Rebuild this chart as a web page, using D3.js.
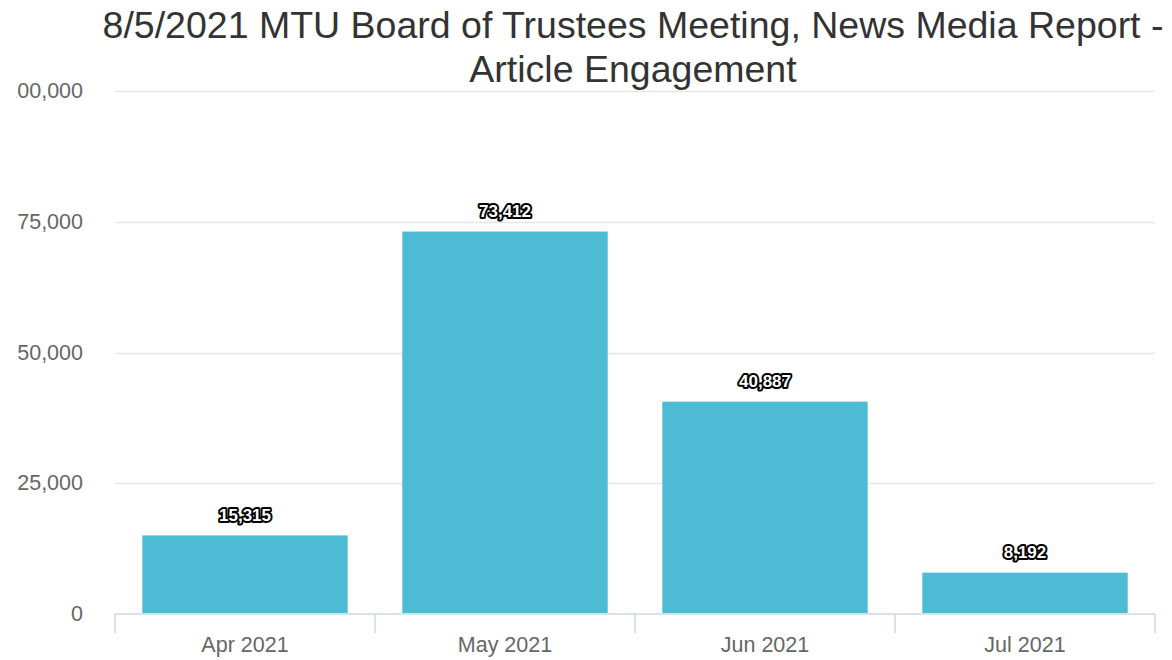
<!DOCTYPE html>
<html><head><meta charset="utf-8">
<script src="https://cdn.jsdelivr.net/npm/d3@7"></script>
<style>
html,body{margin:0;padding:0;background:#fff;}
svg{display:block;font-family:"Liberation Sans",Arial,sans-serif;}
</style></head>
<body><svg id="c" width="1172" height="660"></svg>
<script>
const titleLines = ["8/5/2021 MTU Board of Trustees Meeting, News Media Report -", "Article Engagement"];
const categories = ["Apr 2021", "May 2021", "Jun 2021", "Jul 2021"];
const values = [15315, 73412, 40887, 8192];
const yTicks = [0, 25000, 50000, 75000, 100000];

const svg = d3.select("#c");
const L = 115, R = 1155, T = 91, B = 614;

const x = d3.scaleBand().domain(categories).range([L, R]).paddingInner(0.21).paddingOuter(0.105);
const xb = d3.scaleBand().domain(categories).range([L, R]).padding(0);
const y = d3.scaleLinear().domain([0, 100000]).range([B, T]);
const fmt = d3.format(",");

svg.append("defs").append("clipPath").attr("id", "ylab")
  .append("rect").attr("x", 16).attr("y", 0).attr("width", 1156).attr("height", 660);

// title
const title = svg.append("text").attr("text-anchor", "middle").attr("fill", "#333333")
  .style("font-size", "37.5px");
titleLines.forEach((t, i) => {
  title.append("tspan").attr("x", 633).attr("y", 38 + i * 44).text(t);
});

// grid
svg.append("g").selectAll("line").data(yTicks.filter(d => d > 0)).join("line")
  .attr("x1", L).attr("x2", R).attr("y1", d => Math.round(y(d)) + 0.5).attr("y2", d => Math.round(y(d)) + 0.5)
  .attr("stroke", "#e6e6e6").attr("stroke-width", 1.5);

// y labels
svg.append("g").attr("clip-path", "url(#ylab)").selectAll("text").data(yTicks).join("text")
  .attr("x", 83).attr("y", d => y(d) + 7).attr("text-anchor", "end")
  .attr("fill", "#666666").style("font-size", "21.5px").text(d => fmt(d));

// bars
svg.append("g").selectAll("rect").data(values).join("rect")
  .attr("x", (d, i) => x(categories[i])).attr("width", x.bandwidth())
  .attr("y", d => y(d) + 1.5).attr("height", d => B - 1 - (y(d) + 1.5))
  .attr("fill", "#4dbbd3");

// x axis
svg.append("line").attr("x1", L).attr("x2", R).attr("y1", B).attr("y2", B)
  .attr("stroke", "#ccd6eb").attr("stroke-width", 1.5);
const tickPos = categories.map(c => xb(c)).concat([R]);
svg.append("g").selectAll("line").data(tickPos).join("line")
  .attr("x1", d => d).attr("x2", d => d).attr("y1", B).attr("y2", B + 19)
  .attr("stroke", "#ccd6eb").attr("stroke-width", 1.5);
svg.append("g").selectAll("text").data(categories).join("text")
  .attr("x", d => xb(d) + xb.bandwidth() / 2).attr("y", 652).attr("text-anchor", "middle")
  .attr("fill", "#666666").style("font-size", "21.5px").text(d => d);

// data labels
svg.append("g").selectAll("text").data(values).join("text")
  .attr("x", (d, i) => x(categories[i]) + x.bandwidth() / 2).attr("y", d => y(d) - 13)
  .attr("text-anchor", "middle").style("font-size", "17px").style("font-weight", "bold")
  .attr("fill", "#ffffff").attr("stroke", "#000000").attr("stroke-width", 4)
  .attr("stroke-linejoin", "round").attr("paint-order", "stroke")
  .text(d => fmt(d));
</script></body></html>
